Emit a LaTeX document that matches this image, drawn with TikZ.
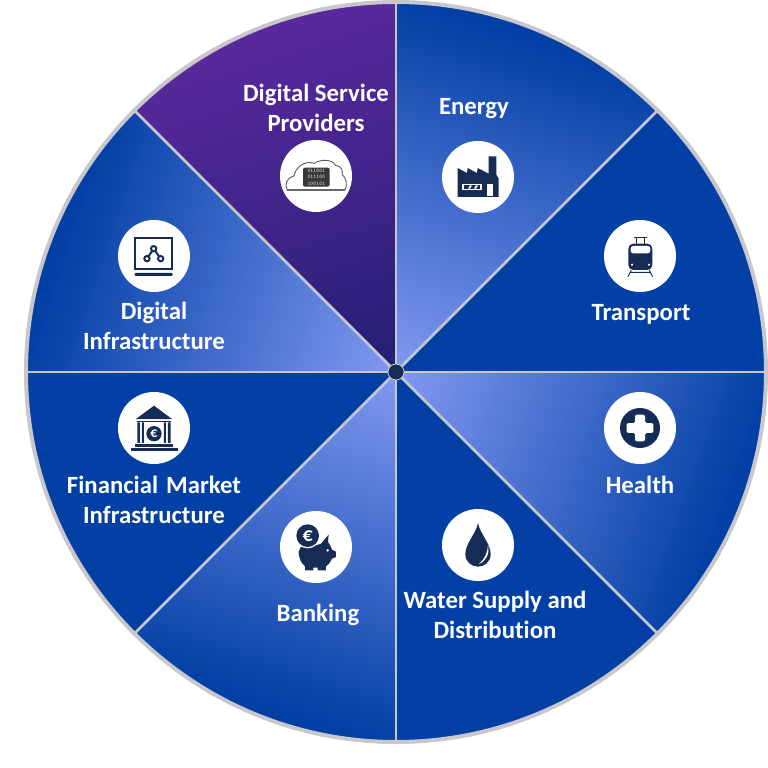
\documentclass[tikz,border=0pt]{standalone}
\usepackage{fontspec}
\setmainfont[Ligatures=NoCommon]{Carlito}
\definecolor{deep}{HTML}{0340A5}
\definecolor{lite}{HTML}{8299F2}
\definecolor{midb}{HTML}{3A60CE}
\definecolor{navy}{HTML}{172C54}
\definecolor{rim}{HTML}{C8C8CC}
\definecolor{purpA}{HTML}{58299C}
\definecolor{purpM}{HTML}{41268C}
\definecolor{purpB}{HTML}{231E74}
\tikzset{
  label/.style={text=white,font=\bfseries\fontsize{24.8}{30}\selectfont,align=center,inner sep=0pt},
  iconbg/.style={circle,fill=white,minimum size=72pt,inner sep=0pt},
  icon/.style={x=0.3333pt,y=-0.3333pt},
  sep/.style={draw=rim,line width=2.8pt},
}
\newcommand{\mysector}[5]{% start angle, gradient dir, near colour, mid colour, far colour
  \begin{scope}
    \clip (0,0) -- (#1:370) arc[start angle=#1,delta angle=45,radius=370] -- cycle;
    \begin{scope}[transform canvas={rotate=#2}]
      \fill[left color=#3,middle color=#4,right color=#5] (0,-400) rectangle (355,400);
      \fill[#5] (354.5,-400) rectangle (400,400);
    \end{scope}
  \end{scope}}
\begin{document}
\begin{tikzpicture}[x=1pt,y=1pt]
\useasboundingbox (-396,-396) rectangle (372,372);
\def\Rr{370}
\fill[deep] (0,0) circle (\Rr);
\mysector{45}{72}{lite}{midb}{deep}
\mysector{-45}{-20}{lite}{midb}{deep}
\mysector{-135}{-108}{lite}{midb}{deep}
\mysector{135}{162}{lite}{midb}{deep}
\mysector{90}{108}{purpB}{purpM}{purpA}
% separators
\coordinate (hub) at (0,0);
\foreach \a in {0,45,...,315} {\coordinate (e\a) at (\a:\Rr); \draw[sep] (hub) -- (e\a);}
\draw[rim,line width=4pt] (hub) circle (\Rr);
\node[circle,fill=navy,draw=rim!60,line width=0.6pt,minimum size=16pt,inner sep=0pt] (centre) at (hub) {};
% discs
\node[iconbg] (c1) at (-80,196) {};
\node[iconbg] (c2) at (82,195) {};
\node[iconbg] (c3) at (244,116) {};
\node[iconbg] (c4) at (244,-56) {};
\node[iconbg] (c5) at (82,-173) {};
\node[iconbg] (c6) at (-80,-175) {};
\node[iconbg] (c7) at (-242,-56) {};
\node[iconbg] (c8) at (-242,116) {};
% labels
\node[label] (t1) at (-80,264) {Digital Service\\Providers};
\node[label] (t2) at (78,263) {Energy};
\node[label] (t3) at (245,58) {Transport};
\node[label] (t4) at (244,-113) {Health};
\node[label] (t5) at (99,-243) {Water Supply and\\Distribution};
\node[label] (t6) at (-78,-243) {Banking};
\node[label] (t7) at (-242,-128) {Financial\hspace{8pt}Market\\Infrastructure};
\node[label] (t9) at (-242,46) {Digital\\Infrastructure};
% cloud icon
\begin{scope}[shift={(c1.center)},icon]
  \draw[black!65,line width=0.9pt,line join=round] (-86,42) .. controls (-97,25) and (-85,3) .. (-66,0) .. controls (-62,-25) and (-35,-48) .. (-5,-38) .. controls (10,-50) and (50,-52) .. (58,-32) .. controls (78,-32) and (82,-10) .. (78,-5) .. controls (92,5) and (95,30) .. (87,42);
  \draw[black!60,line width=1.3pt] (-86,42) -- (88,42);
  \fill[black!78,rounded corners=2pt] (-39,-25) rectangle (41,32);
  \node[text=white!85!black,font=\ttfamily\bfseries\fontsize{5.6}{6.4}\selectfont,align=center,inner sep=0pt] (bits) at (1,3.5) {011001\\011100\\100101};
\end{scope}
% factory icon
\begin{scope}[shift={(c2.center)},icon]
  \fill[navy] (-61,60) -- (-61,-27) -- (-33,-12) -- (-31,-27) -- (-3,-12) -- (-1,-27) -- (32,-10) -- (32,-62) -- (55,-62) -- (55,-7) -- (62,5) -- (62,60) -- cycle;
  \fill[white] (-48,20) rectangle (12,40);
  \fill[navy] (-42,25) rectangle (6,35);
  \fill[white] (-30,35) -- (-24,25) -- (-18,25) -- (-24,35) -- cycle;
  \fill[white] (-12,35) -- (-6,25) -- (0,25) -- (-6,35) -- cycle;
  \fill[white] (27,22) rectangle (45,57);
\end{scope}
% tram icon
\begin{scope}[shift={(c3.center)},icon]
  \draw[navy,line width=0.9pt] (-17,-57) -- (20,-57) (-10,-57) -- (-10,-36) (12,-57) -- (12,-36);
  \fill[navy,rounded corners=5pt] (-35,-37) rectangle (37,42);
  \fill[white,rounded corners=2.5pt] (-28,-30) rectangle (31,-8);
  \fill[white] (-24,26) circle (3.5) (27,26) circle (3.5);
  \draw[navy,line width=0.9pt] (-26,42) -- (-36,62) (28,42) -- (38,62) (-30,49) -- (32,49);
\end{scope}
% health icon
\begin{scope}[shift={(c4.center)},icon]
  \fill[navy] (0,0) circle (60);
  \fill[white,rounded corners=1.5pt] (-15,-40) -- (15,-40) -- (15,-15) -- (40,-15) -- (40,15) -- (15,15) -- (15,40) -- (-15,40) -- (-15,15) -- (-40,15) -- (-40,-15) -- (-15,-15) -- cycle;
\end{scope}
% drop icon
\begin{scope}[shift={(c5.center)},icon]
  \fill[navy] (0,-65) .. controls (8,-30) and (38,-5) .. (38,28) .. controls (38,50) and (20,65) .. (0,65) .. controls (-20,65) and (-38,50) .. (-38,28) .. controls (-38,-5) and (-8,-30) .. (0,-65) -- cycle;
  \fill[white] (30,0) .. controls (36,25) and (25,48) .. (3,57) .. controls (20,42) and (28,25) .. (30,0) -- cycle;
\end{scope}
% piggy icon
\begin{scope}[shift={(c6.center)},icon]
  \fill[navy] (-52,15) .. controls (-52,-5) and (-25,-10) .. (0,-5) -- (15,-10) -- (38,-37) -- (36,-15) .. controls (42,-8) and (45,0) .. (48,8) -- (60,14) -- (60,30) -- (48,35) .. controls (42,48) and (35,55) .. (30,58) -- (30,70) -- (5,70) -- (5,62) -- (-8,62) -- (-8,70) -- (-33,70) -- (-33,58) .. controls (-45,48) and (-52,32) .. (-52,15) -- cycle;
  \fill[white] (35,10) circle (4);
  \fill[white] (-25,-34) circle (38);
  \fill[navy] (-25,-34) circle (34);
  \node[text=white,font=\bfseries\fontsize{20}{20}\selectfont,inner sep=0pt] (euroA) at (-25,-34) {€};
\end{scope}
% bank icon
\begin{scope}[shift={(c7.center)},icon]
  \fill[navy] (0,-67) -- (54,-27) -- (-54,-27) -- cycle;
  \fill[navy] (-52,-22) rectangle (52,-17);
  \fill[navy] (-50,-17) rectangle (-42,45) (-36,-17) rectangle (-30,45) (30,-17) rectangle (36,45) (42,-17) rectangle (50,45);
  \fill[navy] (-56,48) rectangle (56,57);
  \fill[navy] (-70,61) rectangle (72,68);
  \fill[navy] (0,17) circle (23);
  \node[text=white,font=\bfseries\fontsize{14}{14}\selectfont,inner sep=0pt] (euroB) at (0,17) {€};
\end{scope}
% digital infrastructure icon
\begin{scope}[shift={(c8.center)},icon]
  \draw[navy,line width=2pt] (-57,-53) rectangle (55,38);
  \fill[navy,rounded corners=1pt] (-58,51) rectangle (56,60);
  \draw[navy,line width=2pt] (-1,-22) -- (-21,8) (-1,-22) -- (20,8);
  \filldraw[navy,fill=white,line width=2pt] (-1,-22) circle (8) (-21,8) circle (8) (20,8) circle (8);
\end{scope}
\end{tikzpicture}
\end{document}
